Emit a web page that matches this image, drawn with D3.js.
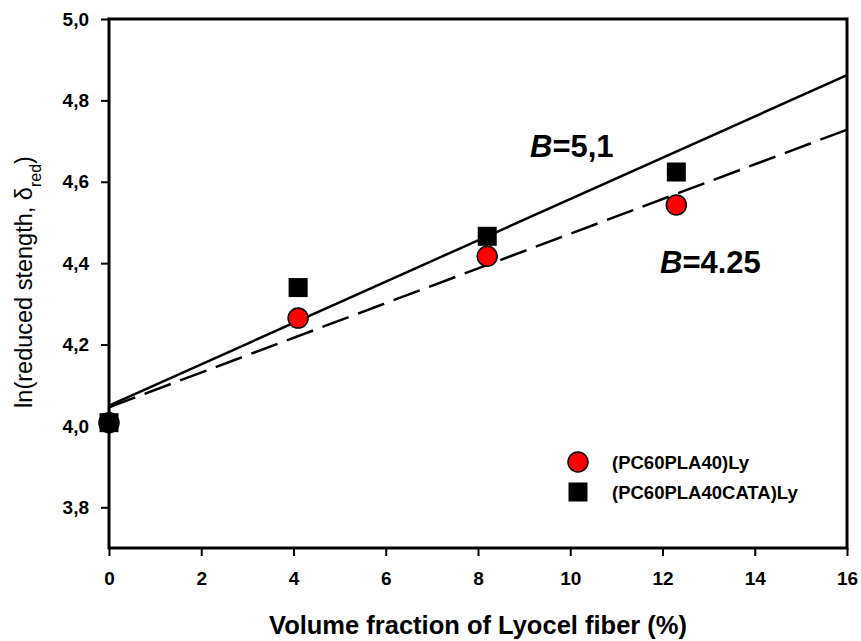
<!DOCTYPE html>
<html>
<head>
<meta charset="utf-8">
<script src="https://cdn.jsdelivr.net/npm/d3@7"></script>
<style>
  body { margin: 0; background: #fff; }
  svg { display: block; font-family: Arial, "Liberation Sans", sans-serif; }
</style>
</head>
<body>
<svg id="chart" width="861" height="641"></svg>
<script>
// Volume fraction of Lyocell fibre (%)
const fractions = [0, 4.1, 8.2, 12.3];
// ln(reduced strength) for each blend
const pcPla = [4.008, 4.265, 4.417, 4.543];
const pcPlaCata = [4.008, 4.34, 4.466, 4.624];
// Fitted lines: [x, y] end points
const fitCata = [[0, 4.05], [16, 4.862]];
const fitPlain = [[0, 4.046], [16, 4.728]];
const xTicks = [0, 2, 4, 6, 8, 10, 12, 14, 16];
const yTicks = [3.8, 4.0, 4.2, 4.4, 4.6, 4.8, 5.0];
const seriesNames = ["(PC60PLA40)Ly", "(PC60PLA40CATA)Ly"];

const FONT = "Arial, 'Liberation Sans', sans-serif";
const svg = d3.select("#chart");
const plot = { left: 109, right: 847, top: 19, bottom: 548 };

const x = d3.scaleLinear().domain([0, 16]).range([plot.left, plot.right]);
const y = d3.scaleLinear().domain([3.7, 5.0]).range([plot.bottom, plot.top]);
const comma = d => d3.format(".1f")(d).replace(".", ",");

// frame
svg.append("rect")
  .attr("x", plot.left).attr("y", plot.top)
  .attr("width", plot.right - plot.left).attr("height", plot.bottom - plot.top)
  .attr("fill", "none").attr("stroke", "#000").attr("stroke-width", 3);

const xAxis = svg.append("g")
  .attr("transform", `translate(0,${plot.bottom})`)
  .call(d3.axisBottom(x).tickValues(xTicks).tickSize(8).tickPadding(16).tickFormat(d3.format("d")));
const yAxis = svg.append("g")
  .attr("transform", `translate(${plot.left},0)`)
  .call(d3.axisLeft(y).tickValues(yTicks).tickSize(8).tickPadding(12).tickFormat(comma));

[xAxis, yAxis].forEach(g => {
  g.attr("font-size", null).attr("font-family", null);
  g.select(".domain").remove();
  g.selectAll(".tick line").attr("stroke", "#000").attr("stroke-width", 2);
  g.selectAll(".tick text")
    .attr("fill", "#000")
    .attr("font-size", 19)
    .attr("font-weight", "bold")
    .attr("font-family", FONT);
});

// fitted lines
const line = d3.line().x(d => x(d[0])).y(d => y(d[1]));
svg.append("path").datum(fitCata).attr("d", line)
  .attr("fill", "none").attr("stroke", "#000").attr("stroke-width", 2.5);
svg.append("path").datum(fitPlain).attr("d", line)
  .attr("fill", "none").attr("stroke", "#000").attr("stroke-width", 2.5)
  .attr("stroke-dasharray", "28,10");

// data markers
const sq = 19;
svg.append("g").selectAll("circle")
  .data(fractions.map((f, i) => [f, pcPla[i]]))
  .join("circle")
  .attr("cx", d => x(d[0])).attr("cy", d => y(d[1])).attr("r", 10)
  .attr("fill", "#ff0000").attr("stroke", "#000").attr("stroke-width", 1.5);
svg.append("g").selectAll("rect")
  .data(fractions.map((f, i) => [f, pcPlaCata[i]]))
  .join("rect")
  .attr("x", d => x(d[0]) - sq / 2).attr("y", d => y(d[1]) - sq / 2)
  .attr("width", sq).attr("height", sq).attr("fill", "#000");

// slope annotations
function slopeLabel(px, py, value) {
  const t = svg.append("text").attr("x", px).attr("y", py)
    .attr("font-size", 31).attr("font-weight", "bold").attr("font-family", FONT).attr("fill", "#000");
  t.append("tspan").attr("font-style", "italic").text("B");
  t.append("tspan").text("=" + value);
}
slopeLabel(530, 157, "5,1");
slopeLabel(660, 273, "4.25");

// legend
const legend = svg.append("g");
legend.append("circle").attr("cx", 578).attr("cy", 462).attr("r", 10)
  .attr("fill", "#ff0000").attr("stroke", "#000").attr("stroke-width", 1.5);
legend.append("rect").attr("x", 578 - sq / 2).attr("y", 492 - sq / 2)
  .attr("width", sq).attr("height", sq).attr("fill", "#000");
legend.selectAll("text").data(seriesNames).join("text")
  .attr("x", 612).attr("y", (d, i) => 469 + i * 30)
  .attr("font-size", 18.5).attr("font-weight", "bold").attr("font-family", FONT).attr("fill", "#000")
  .text(d => d);

// axis titles
svg.append("text").attr("x", 478).attr("y", 634).attr("text-anchor", "middle")
  .attr("font-size", 25.5).attr("font-weight", "bold").attr("font-family", FONT).attr("fill", "#000")
  .text("Volume fraction of Lyocel fiber (%)");

const yt = svg.append("text")
  .attr("transform", "translate(32,282) rotate(-90)")
  .attr("text-anchor", "middle")
  .attr("font-size", 23.5).attr("font-family", FONT).attr("fill", "#000");
yt.append("tspan").text("ln(reduced stength, δ");
yt.append("tspan").attr("baseline-shift", "sub").attr("font-size", 16).text("red");
yt.append("tspan").text(")");
</script>
</body>
</html>
